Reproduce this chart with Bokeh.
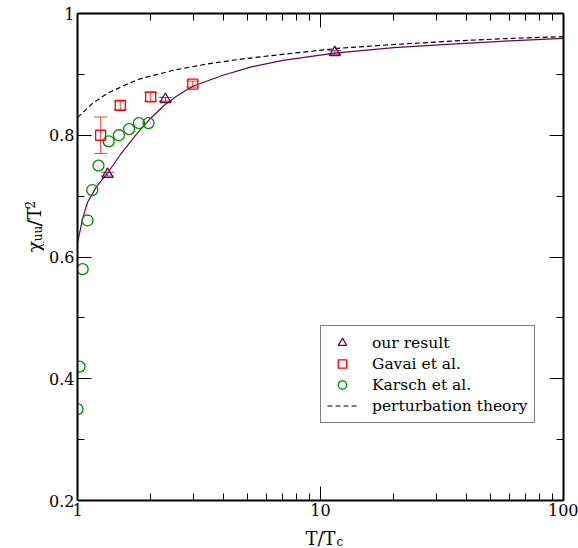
import math
from bokeh.plotting import figure
from bokeh.layouts import row, column
from bokeh.models import (Range1d, FixedTicker, LogAxis, LinearAxis, CustomJSTickFormatter,
                          Whisker, TeeHead, ColumnDataSource, Legend, LegendItem, Label)
from bokeh.embed import file_html
from bokeh.resources import INLINE

# ---- data ----
our_T = [1.33, 2.30, 11.45]
our_chi = [0.736, 0.859, 0.936]
our_err = [0.003, 0.003, 0.003]

gavai_T = [1.245, 1.50, 2.00, 2.98]
gavai_chi = [0.800, 0.849, 0.863, 0.884]
gavai_err = [0.030, 0.007, 0.007, 0.005]

karsch_T = [1.00, 1.02, 1.05, 1.10, 1.15, 1.22, 1.345, 1.48, 1.63, 1.79, 1.96]
karsch_chi = [0.35, 0.42, 0.58, 0.66, 0.71, 0.75, 0.79, 0.80, 0.81, 0.82, 0.82]

fit_T = [1.0, 1.05, 1.1, 1.2, 1.33, 1.5, 1.75, 2.0, 2.3, 2.6, 3.0, 4.0, 5.15, 7.0, 11.45, 20, 36, 60, 100]
fit_chi = [0.623, 0.663, 0.690, 0.716, 0.738, 0.768, 0.802, 0.828, 0.851, 0.866, 0.881, 0.899, 0.912,
           0.923, 0.935, 0.944, 0.950, 0.955, 0.959]

pert_T = [1.0, 1.15, 1.33, 1.6, 1.82, 2.5, 3.4, 4.7, 7.0, 12, 20, 36, 60, 100]
pert_chi = [0.829, 0.852, 0.869, 0.884, 0.893, 0.907, 0.917, 0.925, 0.933, 0.943, 0.949, 0.955,
            0.959, 0.962]

x_major = [1, 10, 100]
x_minor = [2, 3, 4, 5, 6, 7, 8, 9, 20, 30, 40, 50, 60, 70, 80, 90]
y_major = [0.2, 0.4, 0.6, 0.8, 1.0]
y_minor = [0.3, 0.5, 0.7, 0.9]

MAROON = "#670748"
RED = "#ff0000"
GREEN = "#008b00"
FONT = "DejaVu Serif"

LEFT_W = 44      # width of the y-title strip
BOTTOM_H = 26    # height of the x-title strip
W, H = 578, 548
PH = H - BOTTOM_H

p = figure(width=W - LEFT_W, height=PH, x_axis_type="log",
           x_range=Range1d(1, 100), y_range=Range1d(0.2, 1.0),
           output_backend="svg", toolbar_location=None,
           min_border_left=33, min_border_right=15, min_border_top=13, min_border_bottom=22)
p.outline_line_color = None
p.xgrid.visible = False
p.ygrid.visible = False
p.background_fill_color = "white"
p.border_fill_color = "white"

label_fmt = CustomJSTickFormatter(code="return tick.toString();")
blank_fmt = CustomJSTickFormatter(code="return '';")


def style_axis(ax, ticker, show_labels):
    ax.ticker = ticker
    ax.axis_line_color = "black"
    ax.axis_line_width = 2
    ax.major_tick_line_color = "black"
    ax.minor_tick_line_color = "black"
    ax.major_tick_line_width = 1
    ax.minor_tick_line_width = 1
    ax.major_tick_in = 14
    ax.major_tick_out = 0
    ax.minor_tick_in = 7
    ax.minor_tick_out = 0
    if show_labels:
        ax.formatter = label_fmt
        ax.major_label_text_font = FONT
        ax.major_label_text_font_size = "16px"
        ax.major_label_text_color = "black"
    else:
        ax.formatter = blank_fmt
        ax.major_label_text_font_size = "1px"
        ax.major_label_standoff = 0


style_axis(p.xaxis[0], FixedTicker(ticks=x_major, minor_ticks=x_minor), True)
p.xaxis[0].major_label_standoff = 3
style_axis(p.yaxis[0], FixedTicker(ticks=y_major, minor_ticks=y_minor), True)
p.yaxis[0].major_label_standoff = 3

top = LogAxis()
style_axis(top, FixedTicker(ticks=x_major, minor_ticks=x_minor), False)
p.add_layout(top, "above")
right = LinearAxis()
style_axis(right, FixedTicker(ticks=y_major, minor_ticks=y_minor), False)
p.add_layout(right, "right")

# curves
fit_r = p.line(fit_T, fit_chi, line_color=MAROON, line_width=1.2)
pert_r = p.line(pert_T, pert_chi, line_color="black", line_width=1.2, line_dash="5 3")

# error bars
our_src = ColumnDataSource(dict(x=our_T, y=our_chi,
                                lo=[c - e for c, e in zip(our_chi, our_err)],
                                hi=[c + e for c, e in zip(our_chi, our_err)]))
gav_src = ColumnDataSource(dict(x=gavai_T, y=gavai_chi,
                                lo=[c - e for c, e in zip(gavai_chi, gavai_err)],
                                hi=[c + e for c, e in zip(gavai_chi, gavai_err)]))
for src, col in ((our_src, MAROON), (gav_src, RED)):
    w = Whisker(source=src, base="x", lower="lo", upper="hi", dimension="height",
                line_color=col, line_width=1, line_alpha=0.75,
                lower_head=TeeHead(size=13, line_color=col, line_width=1, line_alpha=0.75),
                upper_head=TeeHead(size=13, line_color=col, line_width=1, line_alpha=0.75))
    p.add_layout(w)

# markers
tri_r = p.scatter("x", "y", source=our_src, marker="triangle", size=11,
                  fill_color=None, line_color=MAROON, line_width=1.3)
sq_r = p.scatter("x", "y", source=gav_src, marker="square", size=10,
                 fill_color=None, line_color=RED, line_width=1.3)
cir_r = p.scatter(karsch_T, karsch_chi, marker="circle", size=11,
                  fill_color=None, line_color=GREEN, line_width=1.3)

legend = Legend(items=[
    LegendItem(label="our result", renderers=[tri_r]),
    LegendItem(label="Gavai et al.", renderers=[sq_r]),
    LegendItem(label="Karsch et al.", renderers=[cir_r]),
    LegendItem(label="perturbation theory", renderers=[pert_r]),
], location=(243, 77))
legend.border_line_color = "black"
legend.border_line_width = 1
legend.background_fill_color = "white"
legend.background_fill_alpha = 1
legend.padding = 6
legend.spacing = 0
legend.margin = 0
legend.glyph_width = 30
legend.glyph_height = 21
legend.label_height = 21
legend.label_standoff = 15
legend.label_text_font = FONT
legend.label_text_font_size = "15.5px"
legend.label_text_color = "black"
p.add_layout(legend)


def strip(width, height):
    f = figure(width=width, height=height, x_range=Range1d(0, width), y_range=Range1d(0, height),
               output_backend="svg", toolbar_location=None,
               x_axis_location=None, y_axis_location=None,
               min_border=0, min_border_left=0, min_border_right=0,
               min_border_top=0, min_border_bottom=0)
    f.outline_line_color = None
    f.xgrid.visible = False
    f.ygrid.visible = False
    f.background_fill_color = "white"
    f.border_fill_color = "white"
    return f


def lab(f, text, x, y, size, angle=0.0):
    f.add_layout(Label(x=x, y=y, text=text, angle=angle, text_font=FONT, text_font_size=size,
                       text_align="left", text_baseline="alphabetic", text_color="black"))


# y-axis title strip (x in canvas pixels, y measured upward from the strip bottom)
ys = strip(LEFT_W, PH)
rot = math.pi / 2
lab(ys, "χ", 33, PH - 256, "19px", rot)
lab(ys, "uu", 37.5, PH - 244, "12px", rot)
lab(ys, "/T", 33, PH - 228, "19px", rot)
lab(ys, "2", 29, PH - 209, "12px", rot)

# x-axis title strip (canvas rows PH..H)
xs = strip(W, BOTTOM_H)
lab(xs, "T/T", 305, H - 538, "18px")
lab(xs, "c", 336, H - 541, "12px")

layout = column(row(ys, p, spacing=0), xs, spacing=0)
open("out.html", "w").write(file_html(layout, INLINE))
